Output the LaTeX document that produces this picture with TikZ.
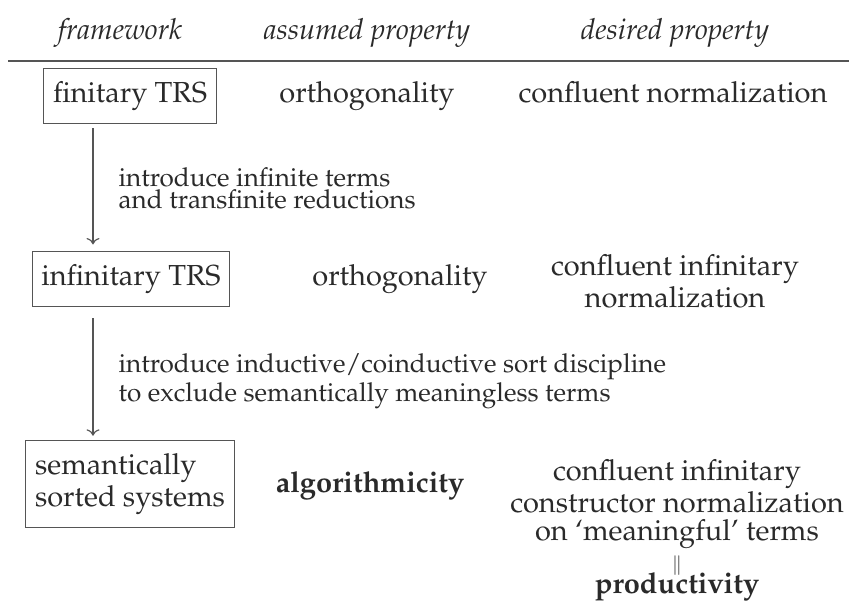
\documentclass[tikz,border=0pt]{standalone}
\usepackage[T1]{fontenc}
\usepackage{mathpazo}
\usetikzlibrary{arrows.meta}
\definecolor{ink}{HTML}{2A2A2A}
\definecolor{linec}{HTML}{555555}
\begin{document}
\begin{tikzpicture}[x=0.345pt,y=-0.345pt,
  txt/.style={font=\fontsize{10}{9.5}\selectfont, text=ink, inner sep=0pt, align=center},
  hdr/.style={txt, anchor=base, font=\fontsize{10}{12}\selectfont\itshape},
  sysbox/.style={txt, draw=linec, line width=0.4pt, inner xsep=3.2pt, inner ysep=4.4pt, align=left, font=\fontsize{10}{9.3}\selectfont},
  lbl/.style={txt, anchor=west, align=left, font=\fontsize{9}{7.5}\selectfont},
  arr/.style={draw=linec, line width=0.4pt, -{To[length=2.2pt,width=4.5pt]}},
  hrule/.style={draw=linec, line width=0.6pt}]
\useasboundingbox (0,0) rectangle (849,604);
% header
\node[hdr] (hf) at (120,40) {framework};
\node[hdr] (ha) at (367,40) {assumed property};
\node[hdr] (hd) at (675,40) {desired property};
\coordinate (rl) at (8,61);
\coordinate (rr) at (849,61);
\draw[hrule] (rl) -- (rr);
% row 1
\node[sysbox] (b1) at (130,96) {finitary TRS};
\node[txt, anchor=base] (a1) at (b1.base -| 367,0) {orthogonality};
\node[txt, anchor=base] (d1) at (b1.base -| 673,0) {confluent normalization};
% row 2
\node[sysbox] (b2) at (131,279) {infinitary TRS};
\node[txt, anchor=base] (a2) at (b2.base -| 400,0) {orthogonality};
\node[txt] (d2) at (675,281) {confluent infinitary\\normalization};
% row 3
\node[sysbox] (b3) at (130,484) {semantically\\sorted systems};
\node[txt, anchor=base] (a3) at (370,492) {\bfseries algorithmicity};
\node[txt, anchor=north] (d3) at (677,459) {confluent infinitary\\constructor normalization\\on `meaningful' terms};
\node[txt, font=\fontsize{6.5}{6.5}\selectfont] (eq) at (677,566) {$\|$};
\node[txt, anchor=base, font=\fontsize{10}{10}\selectfont\bfseries] (pr) at (677,593) {productivity};
% arrows and labels
\coordinate (ax) at (93,0);
\draw[arr] ([yshift=-1.5pt]b1.south -| ax) -- ([yshift=2.3pt]b2.north -| ax);
\draw[arr] ([yshift=-4pt]b2.south -| ax) -- ([yshift=1.5pt]b3.north -| ax);
\node[lbl] (l1) at (118,188) {introduce infinite terms\\and transfinite reductions};
\node[lbl] (l2) at (118,381) {introduce inductive/coinductive sort discipline\\to exclude semantically meaningless terms};
\end{tikzpicture}
\end{document}
